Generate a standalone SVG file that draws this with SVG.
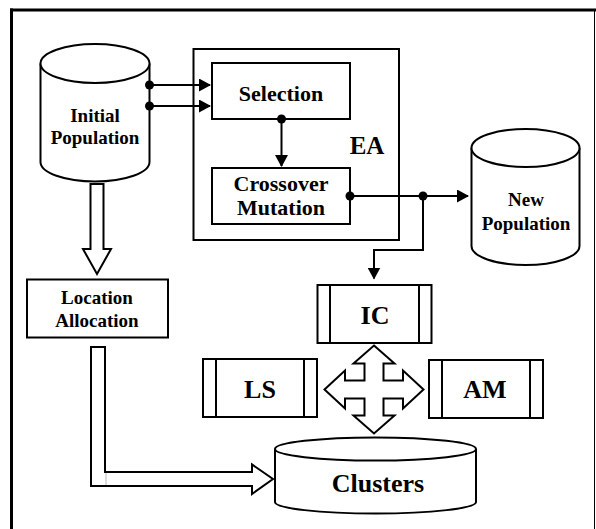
<svg xmlns="http://www.w3.org/2000/svg" width="596" height="529" viewBox="0 0 596 529">
<style>
.s{fill:#fff;stroke:#000;stroke-width:2}
.n{fill:none;stroke:#000;stroke-width:2}
.c{fill:none;stroke:#000;stroke-width:2}
.t{font-family:"Liberation Serif","Times New Roman",serif;font-weight:bold;fill:#000;text-anchor:middle}
.f19{font-size:19px}.f22{font-size:22px}.f25{font-size:25px}.f26{font-size:26px}
.dot{fill:#000}
</style>
<defs>
<marker id="ah" viewBox="0 0 12 13" refX="11" refY="6.5" markerWidth="12" markerHeight="13" markerUnits="userSpaceOnUse" orient="auto">
<path d="M0,0 L12,6.5 L0,13 Z" fill="#000"/>
</marker>
</defs>
<rect width="596" height="529" fill="#fff"/>
<g id="frame">
<line x1="10" y1="10" x2="596" y2="10" stroke="#000" stroke-width="3"/>
<line x1="11.5" y1="8.5" x2="11.5" y2="529" stroke="#000" stroke-width="3"/>
<line x1="594.5" y1="10" x2="594.5" y2="529" stroke="#000" stroke-width="1"/>
</g>
<g id="ea">
<rect class="s" x="193.5" y="49" width="205.5" height="191"/>
<text class="t f25" x="367" y="154">EA</text>
</g>
<g id="initial-population">
<path class="s" d="M40.5,63.5 V162 A54.5,19.5 0 0,0 149.5,162 V63.5"/>
<ellipse class="s" cx="95" cy="63.5" rx="54.5" ry="19.5"/>
<text class="t f19" x="95" y="122">Initial</text>
<text class="t f19" x="95" y="144">Population</text>
</g>
<g id="selection">
<rect class="s" x="212" y="63" width="138" height="56"/>
<text class="t f22" x="281" y="101">Selection</text>
</g>
<g id="crossover">
<rect class="s" x="212" y="168" width="138" height="56"/>
<text class="t f22" x="281" y="191">Crossover</text>
<text class="t f22" x="281" y="215">Mutation</text>
</g>
<g id="new-population">
<path class="s" d="M471.5,148 V246 A54,19 0 0,0 579.5,246 V148"/>
<ellipse class="s" cx="525.5" cy="148" rx="54" ry="19"/>
<text class="t f19" x="526" y="206">New</text>
<text class="t f19" x="526" y="230">Population</text>
</g>
<g id="location-allocation">
<rect class="s" x="27" y="279.5" width="141" height="58"/>
<text class="t f19" x="97" y="304">Location</text>
<text class="t f19" x="97" y="327">Allocation</text>
</g>
<g id="ic">
<rect class="s" x="317.5" y="285" width="114" height="58"/>
<line class="n" x1="330" y1="285" x2="330" y2="343"/>
<line class="n" x1="419" y1="285" x2="419" y2="343"/>
<text class="t f26" x="375" y="324">IC</text>
</g>
<g id="ls">
<rect class="s" x="203" y="359" width="114" height="58"/>
<line class="n" x1="216" y1="359" x2="216" y2="417"/>
<line class="n" x1="304" y1="359" x2="304" y2="417"/>
<text class="t f26" x="260" y="398">LS</text>
</g>
<g id="am">
<rect class="s" x="429" y="360" width="114" height="58"/>
<line class="n" x1="442" y1="360" x2="442" y2="418"/>
<line class="n" x1="530" y1="360" x2="530" y2="418"/>
<text class="t f26" x="485" y="398">AM</text>
</g>
<g id="clusters">
<path class="s" d="M275,449 V502 A100.5,11.5 0 0,0 476,502 V449"/>
<ellipse class="s" cx="375.5" cy="449" rx="100.5" ry="11.5"/>
<text class="t f26" x="378" y="492">Clusters</text>
</g>
<g id="connectors">
<path class="c" d="M149.5,85 H210" marker-end="url(#ah)"/>
<path class="c" d="M149.5,106 H210" marker-end="url(#ah)"/>
<circle class="dot" cx="149.5" cy="85" r="4.5"/>
<circle class="dot" cx="149.5" cy="106" r="4.5"/>
<path class="c" d="M281.5,119 V166" marker-end="url(#ah)"/>
<circle class="dot" cx="281.5" cy="119" r="4.5"/>
<path class="c" d="M350,196 H468" marker-end="url(#ah)"/>
<path class="c" d="M423,196 V250 H374 V278.5" marker-end="url(#ah)"/>
<circle class="dot" cx="350" cy="196" r="4.5"/>
<circle class="dot" cx="423" cy="196" r="4.5"/>
<polygon class="s" points="90.5,184 103.5,184 103.5,249 111,249 97,274 83,249 90.5,249"/>
<polygon class="s" points="91,347 105,347 105,472 252,472 252,464.5 273,479 252,494 252,486 91,486"/>
<line x1="106" y1="473" x2="106" y2="485" stroke="#bbb" stroke-width="1"/>
<polygon class="s" points="374,345.5 394.5,363.5 383.5,363.5 383.5,380.5 403,380.5 403,370.5 423.5,389.5 403,408.5 403,398.5 383.5,398.5 383.5,415.5 394.5,415.5 374,433.5 353.5,415.5 364.5,415.5 364.5,398.5 345,398.5 345,408.5 324.5,389.5 345,370.5 345,380.5 364.5,380.5 364.5,363.5 353.5,363.5"/>
</g>
</svg>
